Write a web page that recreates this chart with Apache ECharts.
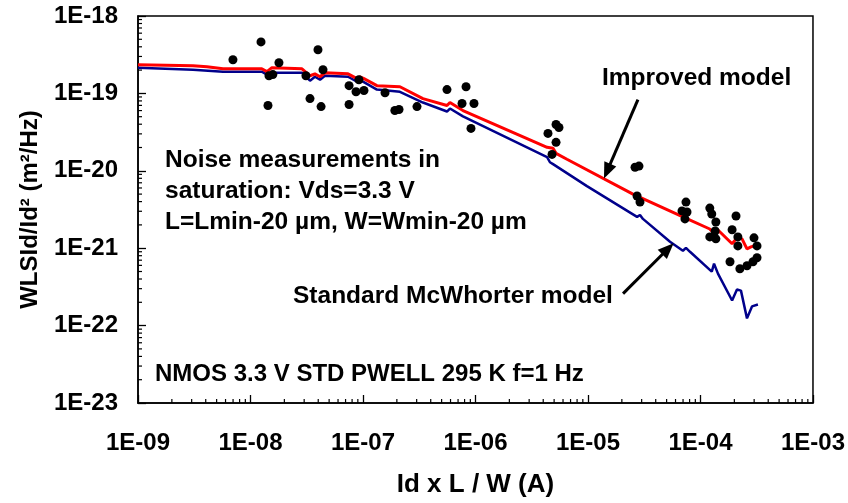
<!DOCTYPE html>
<html><head><meta charset="utf-8">
<script src="https://cdn.jsdelivr.net/npm/echarts@6/dist/echarts.min.js"></script>
<style>html,body{margin:0;padding:0;background:#fff}#c{width:848px;height:503px}</style>
</head><body><div id="c"></div>
<script>
// ---- data ----
const improvedX = [1.0e-9,3.08e-9,4.10e-9,5.70e-9,1.26e-8,1.40e-8,1.55e-8,2.87e-8,3.38e-8,3.74e-8,4.15e-8,4.59e-8,7.36e-8,8.85e-8,9.40e-8,1.02e-7,1.33e-7,2.13e-7,3.41e-7,5.58e-7,5.93e-7,7.74e-7,4.33e-6,4.89e-6,5.20e-6,6.50e-6,2.51e-5,6.98e-5,1.21e-4,1.29e-4,1.40e-4,1.91e-4,2.11e-4,2.34e-4,2.59e-4,2.81e-4,3.24e-4];
const improvedY = [2.34e-19,2.28e-19,2.21e-19,2.08e-19,2.08e-19,1.91e-19,2.15e-19,2.08e-19,1.69e-19,1.79e-19,1.64e-19,1.85e-19,1.79e-19,1.55e-19,1.64e-19,1.55e-19,1.26e-19,1.22e-19,8.57e-20,6.97e-20,7.62e-20,6.01e-20,2.01e-20,1.95e-20,1.68e-20,1.41e-20,5.00e-21,2.54e-21,1.77e-21,1.63e-21,1.77e-21,1.14e-21,1.36e-21,1.32e-21,9.82e-22,1.04e-21,1.11e-21];
const standardX = [1.0e-9,3.08e-9,5.70e-9,1.26e-8,1.40e-8,1.55e-8,2.87e-8,3.38e-8,3.74e-8,4.15e-8,4.59e-8,7.36e-8,8.85e-8,1.00e-7,1.33e-7,2.13e-7,3.41e-7,5.58e-7,5.93e-7,7.74e-7,4.33e-6,4.59e-6,4.89e-6,9.79e-6,2.73e-5,2.90e-5,3.08e-5,5.36e-5,6.98e-5,7.43e-5,8.07e-5,1.26e-4,1.32e-4,1.43e-4,1.91e-4,2.11e-4,2.29e-4,2.59e-4,2.87e-4,3.24e-4];
const standardY = [2.15e-19,2.02e-19,1.91e-19,1.91e-19,1.75e-19,1.85e-19,1.85e-19,1.46e-19,1.64e-19,1.50e-19,1.69e-19,1.64e-19,1.42e-19,1.42e-19,1.12e-19,1.05e-19,7.62e-20,5.83e-20,6.38e-20,5.04e-20,1.50e-20,1.29e-20,1.22e-20,6.34e-21,2.54e-21,2.69e-21,2.39e-21,1.21e-21,9.27e-22,1.01e-21,8.99e-22,4.98e-22,6.31e-22,4.69e-22,2.11e-22,2.92e-22,2.83e-22,1.24e-22,1.77e-22,1.87e-22];
const measuredX = [6.98e-9,1.24e-8,1.79e-8,1.46e-8,1.58e-8,1.43e-8,3.98e-8,4.41e-8,3.11e-8,3.38e-8,4.24e-8,7.52e-8,8.67e-8,1.02e-7,9.20e-8,7.52e-8,1.57e-7,1.92e-7,2.09e-7,3.02e-7,5.58e-7,8.24e-7,7.59e-7,9.70e-7,9.12e-7,4.41e-6,5.20e-6,5.52e-6,5.20e-6,4.79e-6,2.62e-5,2.84e-5,2.73e-5,2.90e-5,7.43e-5,6.85e-5,7.59e-5,7.28e-5,1.21e-4,1.26e-4,1.37e-4,1.21e-4,1.37e-4,1.35e-4,2.07e-4,1.91e-4,2.15e-4,2.15e-4,2.99e-4,3.18e-4,1.83e-4,2.24e-4,2.59e-4,2.93e-4,3.18e-4];
const measuredY = [2.72e-19,4.63e-19,2.49e-19,1.69e-19,1.75e-19,6.97e-20,3.66e-19,2.02e-19,1.69e-19,8.57e-20,6.76e-20,1.26e-19,1.05e-19,1.09e-19,1.50e-19,7.18e-20,1.02e-19,6.01e-20,6.19e-20,6.76e-20,1.12e-19,1.22e-19,7.40e-20,7.40e-20,3.53e-20,3.04e-20,3.97e-20,3.63e-20,2.33e-20,1.63e-20,1.11e-20,1.15e-20,4.72e-21,3.94e-21,3.94e-21,3.03e-21,2.94e-21,2.39e-21,3.30e-21,2.77e-21,2.18e-21,1.40e-21,1.32e-21,1.67e-21,2.61e-21,1.73e-21,1.40e-21,1.07e-21,1.36e-21,1.07e-21,6.68e-22,5.43e-22,5.94e-22,6.68e-22,7.53e-22];
const xDecades = [1e-9,1e-8,1e-7,1e-6,1e-5,1e-4];
const yDecades = [1e-23,1e-22,1e-21,1e-20,1e-19];
const minorSteps = [2,3,4,5,6,7,8,9];
const xMin = 1e-9, xMax = 1e-3;
// y values are plotted in units of 1e-21 (ECharts rounds extents below ~1e-20 to 0)
const Y_EXP = -21, Y_UNIT = 1e-21;
const yMinU = 1e-2, yMaxU = 1e3;   // 1E-23 .. 1E-18

const FONT = 'Liberation Sans';
const yu = v => Number((v / Y_UNIT).toPrecision(6));
function fmtX(v){const e=Math.round(Math.log10(v));return '1E'+(e<0?'-':'+')+String(Math.abs(e)).padStart(2,'0');}
function fmtY(v){const e=Math.round(Math.log10(v))+Y_EXP;return '1E'+(e<0?'-':'+')+String(Math.abs(e)).padStart(2,'0');}
const pairs=(xs,ys)=>xs.map((x,i)=>[x,yu(ys[i])]);
const xMinor=[];xDecades.forEach(d=>minorSteps.forEach(s=>xMinor.push([d*s,yMinU])));
const yMinor=[];yDecades.forEach(d=>minorSteps.forEach(s=>yMinor.push([xMin,yu(d*s)])));
const TXT = {fontFamily:FONT,fontWeight:'bold',fontSize:24.5,fill:'#000',textVerticalAlign:'middle'};

const chart = echarts.init(document.getElementById('c'), null, {renderer:'canvas'});
chart.setOption({
  animation:false,
  backgroundColor:'#fff',
  grid:{left:138,right:35,top:16,bottom:98,show:true,borderColor:'#000',borderWidth:1.5,backgroundColor:'transparent'},
  xAxis:{type:'log',logBase:10,min:xMin,max:xMax,splitNumber:6,
    name:'Id x L / W (A)',nameLocation:'middle',nameGap:69,
    nameTextStyle:{fontFamily:FONT,fontWeight:'bold',fontSize:26,color:'#000'},
    axisLine:{lineStyle:{color:'#000',width:1.5}},
    axisTick:{inside:true,length:8,lineStyle:{color:'#000',width:1.3}},
    axisLabel:{formatter:fmtX,margin:28,fontFamily:FONT,fontWeight:'bold',fontSize:24,color:'#000',showMinLabel:true,showMaxLabel:true},
    splitLine:{show:false}},
  yAxis:{type:'log',logBase:10,min:yMinU,max:yMaxU,splitNumber:5,
    name:'WLSId/Id² (m²/Hz)',nameLocation:'middle',nameGap:96,
    nameTextStyle:{fontFamily:FONT,fontWeight:'bold',fontSize:24,color:'#000'},
    axisLine:{lineStyle:{color:'#000',width:1.5}},
    axisTick:{inside:true,length:8,lineStyle:{color:'#000',width:1.3}},
    axisLabel:{formatter:fmtY,margin:20,fontFamily:FONT,fontWeight:'bold',fontSize:24,color:'#000',showMinLabel:true,showMaxLabel:true},
    splitLine:{show:false}},
  series:[
    {type:'custom',name:'xminor',data:xMinor,silent:true,z:1,
      renderItem:(p,api)=>{const c=api.coord([api.value(0),api.value(1)]);return {type:'line',shape:{x1:c[0],y1:c[1],x2:c[0],y2:c[1]-4},style:{stroke:'#000',lineWidth:1.2}};}},
    {type:'custom',name:'yminor',data:yMinor,silent:true,z:1,
      renderItem:(p,api)=>{const c=api.coord([api.value(0),api.value(1)]);return {type:'line',shape:{x1:c[0],y1:c[1],x2:c[0]+4,y2:c[1]},style:{stroke:'#000',lineWidth:1.2}};}},
    {type:'line',name:'Standard McWhorter model',data:pairs(standardX,standardY),showSymbol:false,symbol:'none',
      lineStyle:{color:'#00008b',width:2.5},z:3},
    {type:'line',name:'Improved model',data:pairs(improvedX,improvedY),showSymbol:false,symbol:'none',
      lineStyle:{color:'#ff0000',width:3},z:4,
      markLine:{silent:true,animation:false,label:{show:false},
        lineStyle:{color:'#000',width:3,type:'solid'},
        symbol:['none','triangle'],symbolSize:[13,16],
        data:[
          [{coord:[2.78e-5,yu(8.32e-20)]},{coord:[1.48e-5,yu(9.89e-21)]}],
          [{coord:[2.05e-5,yu(2.59e-22)]},{coord:[5.14e-5,yu(9.82e-22)]}]
        ]}},
    {type:'scatter',name:'Noise measurements',data:pairs(measuredX,measuredY),symbol:'circle',symbolSize:9,
      itemStyle:{color:'#000',opacity:1},z:5}
  ],
  graphic:[
    {type:'text',x:602,y:78,style:Object.assign({text:'Improved model'},TXT)},
    {type:'text',x:165,y:160,style:Object.assign({text:'Noise measurements in'},TXT)},
    {type:'text',x:165,y:191,style:Object.assign({text:'saturation: Vds=3.3 V'},TXT)},
    {type:'text',x:165,y:222,style:Object.assign({text:'L=Lmin-20 µm, W=Wmin-20 µm'},TXT)},
    {type:'text',x:293,y:296,style:Object.assign({text:'Standard McWhorter model'},TXT)},
    {type:'text',x:155,y:374,style:Object.assign({text:'NMOS 3.3 V STD PWELL 295 K f=1 Hz'},TXT,{fontSize:24})}
  ]
});
</script></body></html>
